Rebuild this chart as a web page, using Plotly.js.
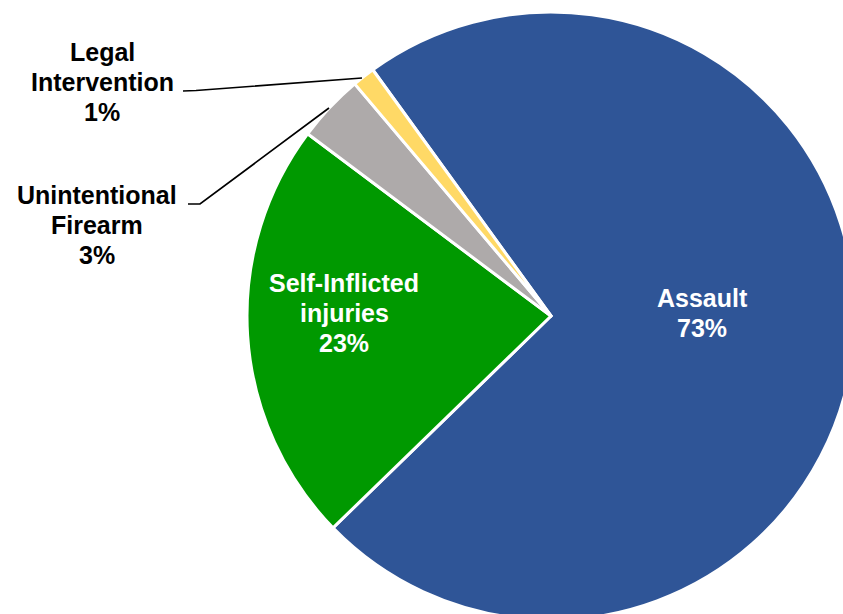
<!DOCTYPE html>
<html>
<head>
<meta charset="utf-8">
<script src="https://cdn.plot.ly/plotly-3.0.1.min.js"></script>
<style>
html, body { margin: 0; padding: 0; overflow: hidden; background: #ffffff; }
#chart { width: 880px; height: 640px; }
</style>
</head>
<body>
<div id="chart"></div>
<script>
// Data
var categories = ['Assault', 'Self-Inflicted injuries', 'Unintentional Firearm', 'Legal Intervention'];
var displayNames = ['Assault', 'Self-Inflicted<br>injuries', 'Unintentional<br>Firearm', 'Legal<br>Intervention'];
var shares = [72.7, 22.5, 3.6, 1.2];
var pctLabels = ['73%', '23%', '3%', '1%'];
var sliceColors = ['#2F5597', '#009900', '#AEAAAA', '#FFD966'];

// Layout geometry (pixels)
var W = 880, H = 640;
function px(x) { return x / W; }
function py(y) { return 1 - y / H; }

var cx = 551, cy = 316, r = 304;

var trace = {
  type: 'pie',
  labels: categories,
  values: shares,
  sort: false,
  direction: 'clockwise',
  rotation: -35.9,
  textinfo: 'none',
  hoverinfo: 'label+percent',
  marker: { colors: sliceColors, line: { color: '#ffffff', width: 3 } },
  domain: { x: [px(cx - r), px(cx + r)], y: [py(cy + r), py(cy - r)] },
  showlegend: false
};

// label block positions: centre x, first baseline y (pixels)
var FS = 25, PITCH = 30;
var labelPos = [
  { x: 702, b: 307, color: '#ffffff' },
  { x: 344, b: 292, color: '#ffffff' },
  { x: 97, b: 203.5, color: '#000000' },
  { x: 102, b: 60.5, color: '#000000' }
];

var annotations = [];
categories.forEach(function (c, i) {
  var lines = displayNames[i].split('<br>').concat([pctLabels[i]]);
  lines.forEach(function (ln, k) {
    var base = labelPos[i].b + k * PITCH;
    annotations.push({
      xref: 'paper', yref: 'paper',
      x: px(labelPos[i].x), y: py(base - 0.3465 * FS),
      xanchor: 'center', yanchor: 'middle',
      showarrow: false,
      borderpad: 0,
      text: '<b>' + ln + '</b>',
      font: { family: 'Liberation Sans, Arial, sans-serif', size: FS, color: labelPos[i].color }
    });
  });
});

function pathFrom(points) {
  return points.map(function (p, k) {
    return (k === 0 ? 'M' : 'L') + px(p[0]) + ',' + py(p[1]);
  }).join(' ');
}

var shapes = [
  { type: 'path', xref: 'paper', yref: 'paper',
    path: pathFrom([[183, 91], [196, 90.5], [362, 78]]),
    line: { color: '#000000', width: 1.7 } },
  { type: 'path', xref: 'paper', yref: 'paper',
    path: pathFrom([[188, 204], [200, 204], [329, 108]]),
    line: { color: '#000000', width: 1.7 } }
];

var layout = {
  width: W, height: H,
  margin: { l: 0, r: 0, t: 0, b: 0, pad: 0 },
  paper_bgcolor: '#ffffff',
  plot_bgcolor: '#ffffff',
  annotations: annotations,
  shapes: shapes,
  showlegend: false
};

Plotly.newPlot('chart', [trace], layout, { displayModeBar: false, staticPlot: true });
</script>
</body>
</html>
